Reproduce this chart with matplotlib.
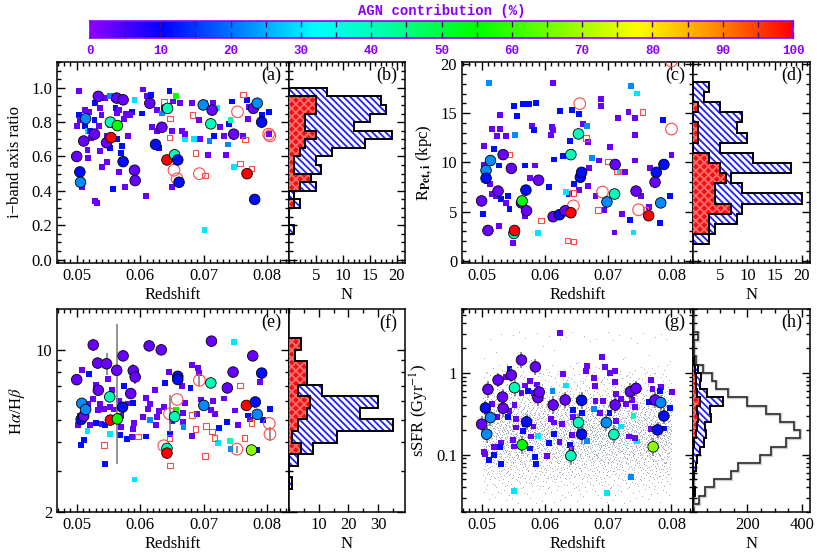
import numpy as np
import matplotlib
matplotlib.use("Agg")
import matplotlib.pyplot as plt
from matplotlib.colors import LinearSegmentedColormap
from matplotlib.ticker import MultipleLocator, LogLocator, NullFormatter, FormatStrFormatter

plt.rcParams['font.family'] = ['Liberation Serif', 'DejaVu Serif']
plt.rcParams['mathtext.fontset'] = 'stix'
plt.rcParams['font.size'] = 12
plt.rcParams['hatch.linewidth'] = 1.3
plt.rcParams['axes.linewidth'] = 1.1

# ---------------- data ----------------
# panel (a): i-band axis ratio vs redshift
a_sq_z = [0.0504,0.0503,0.0501,0.0505,0.0513,0.0513,0.0517,0.0517,0.0508,0.0518,0.0522,0.0520,0.0526,0.0529,
          0.0528,0.0535,0.0539,0.0537,0.0529,0.0532,0.0545,0.0548,0.0552,0.0551,0.0548,0.0553,0.0540,0.0558,
          0.0561,0.0566,0.0564,0.0567,0.0569,0.0571,0.0557,0.0576,0.0578,0.0587,0.0575,0.0581,0.0591,0.0605,
          0.0603,0.0609,0.0611,0.0617,0.0618,0.0622,0.0626,0.0627,0.0629,0.0634,0.0638,0.0646,0.0650,0.0652,
          0.0656,0.0662,0.0650,0.0666,0.0670,0.0671,0.0682,0.0684,0.0694,0.0693,0.0706,0.0709,0.0714,0.0716,
          0.0721,0.0726,0.0732,0.0735,0.0739,0.0738,0.0744,0.0742,0.0747,0.0701,0.0761,0.0768,0.0769,0.0771,
          0.0779,0.0792,0.0802,0.0803,0.0584,0.0563,0.0537,0.0521]
a_sq_q = [0.98,0.84,0.78,0.81,0.87,0.78,0.75,0.64,0.42,0.59,0.71,0.86,0.73,0.91,
          0.81,0.78,0.84,0.63,0.34,0.33,0.94,0.72,0.95,0.69,0.57,0.65,0.54,0.94,
          0.88,0.87,0.70,0.51,0.62,0.66,0.41,0.42,0.85,0.86,0.82,0.72,0.93,0.99,
          0.85,0.37,0.95,0.96,0.77,0.67,0.75,0.87,0.65,0.85,0.88,0.98,0.75,0.92,
          0.95,0.91,0.42,0.75,0.70,0.73,0.91,0.70,0.70,0.81,0.61,0.69,0.91,0.72,
          0.88,0.77,0.72,0.61,0.79,0.67,0.92,0.81,0.54,0.17,0.72,0.93,0.82,0.89,
          0.89,0.84,0.86,0.73,0.84,0.85,0.88,0.75]
a_sq_agn = [3,11,3,3,3,11,30,3,3,3,3,3,3,11,
            11,3,3,3,3,3,3,3,22,11,3,11,3,3,
            11,3,11,3,11,11,11,3,3,11,3,3,30,3,
            11,3,3,11,3,22,3,3,11,22,11,11,3,3,
            55,3,3,3,30,3,3,30,3,3,3,22,3,11,
            30,3,3,3,11,22,11,40,30,30,3,11,3,3,
            11,11,11,3,3,3,3,11]
a_ci_z = [0.0500,0.0505,0.0506,0.0514,0.0511,0.0528,0.0534,0.0547,0.0553,0.0554,0.0564,0.0563,0.0573,0.0573,
          0.0591,0.0592,0.0615,0.0624,0.0634,0.0643,0.0642,0.0654,0.0659,0.0661,0.0699,0.0713,0.0711,0.0747,
          0.0768,0.0778,0.0784,0.0791,0.0780]
a_ci_q = [0.60,0.51,0.45,0.82,0.69,0.73,0.95,0.68,0.80,0.71,0.78,0.94,0.93,0.57,
          0.52,0.46,0.91,0.67,0.77,0.88,0.58,0.61,0.58,0.45,0.90,0.87,0.79,0.73,
          0.50,0.88,0.91,0.80,0.35]
a_ci_agn = [3,11,22,22,3,3,3,3,40,100,55,3,3,11,
            3,3,3,11,3,40,100,40,11,11,22,3,40,3,
            100,3,22,11,11]
a_oc_z = [0.0653,0.0658,0.0693,0.0753,0.0802,0.0804]
a_oc_q = [0.52,0.47,0.50,0.86,0.73,0.72]
a_os_z = [0.0552,0.0637,0.0647,0.0646,0.0682,0.0687,0.0702,0.0757,0.0762,0.0765,0.0775,0.0701]
a_os_q = [0.79,0.92,0.82,0.71,0.84,0.62,0.49,0.56,0.96,0.70,0.53,0.91]

# panel (b): axis-ratio histogram, bins of 0.05 from 0.15 to 1.0 (bottom to top)
b_edges = [0.15,0.20,0.25,0.30,0.35,0.40,0.45,0.50,0.55,0.60,0.65,0.70,0.75,0.80,0.85,0.90,0.95,1.00]
b_blue = [1,0,0,2,1,5,4,6,5,8,14,19,12,15,18,17,7]
b_red = [0,0,0,1,0,2,4,1,1,2,3,5,3,3,5,5,0]

# panel (c): Petrosian radius vs redshift
c_sq_z = [0.0511,0.0504,0.0503,0.0502,0.0519,0.0513,0.0517,0.0523,0.0529,0.0529,0.0516,0.0525,0.0528,0.0530,
          0.0528,0.0539,0.0542,0.0539,0.0544,0.0551,0.0553,0.0556,0.0550,0.0565,0.0575,0.0569,0.0568,0.0580,
          0.0583,0.0586,0.0585,0.0577,0.0589,0.0609,0.0606,0.0615,0.0611,0.0613,0.0624,0.0628,0.0613,0.0638,
          0.0634,0.0639,0.0643,0.0646,0.0654,0.0654,0.0660,0.0667,0.0668,0.0670,0.0668,0.0675,0.0680,0.0686,
          0.0689,0.0689,0.0693,0.0703,0.0710,0.0719,0.0715,0.0722,0.0727,0.0732,0.0735,0.0736,0.0745,0.0742,
          0.0743,0.0743,0.0740,0.0752,0.0764,0.0766,0.0787,0.0782,0.0800,0.0797]
c_sq_r = [18.1,11.7,9.8,4.8,11.4,7.8,6.8,6.6,14.8,13.4,13.4,12.7,9.7,6.3,
          3.6,12.7,6.6,5.9,5.3,15.7,12.8,14.7,1.8,15.9,15.9,9.7,4.6,13.7,
          13.3,16.0,9.7,8.4,2.8,12.8,7.5,10.3,13.6,13.3,15.2,10.7,18.1,6.8,
          7.0,12.2,15.3,7.8,7.2,14.9,13.9,13.7,12.1,9.4,7.6,10.5,6.6,10.2,
          16.4,15.7,5.2,11.6,2.9,9.0,14.5,4.8,9.0,15.1,4.2,17.8,17.0,14.5,
          12.8,10.2,2.9,6.6,5.5,9.4,14.3,3.9,10.8,6.6]
c_sq_agn = [22,3,3,11,11,3,3,3,3,3,3,3,11,11,
            3,3,11,3,11,11,22,11,3,11,11,11,3,3,
            11,11,3,3,30,3,11,11,3,3,11,11,3,3,
            30,11,11,11,3,11,3,22,3,3,3,22,3,3,
            3,3,3,3,3,30,3,3,3,3,11,22,30,3,
            3,3,30,3,3,3,11,11,3,11]
c_ci_z = [0.0500,0.0510,0.0507,0.0514,0.0507,0.0526,0.0534,0.0547,0.0551,0.0552,0.0563,0.0564,0.0571,0.0570,
          0.0590,0.0613,0.0623,0.0632,0.0641,0.0641,0.0653,0.0656,0.0658,0.0698,0.0710,0.0711,0.0744,0.0764,
          0.0776,0.0788,0.0774,0.0783]
c_ci_r = [6.1,3.1,9.2,10.2,8.4,7.1,10.8,9.4,2.8,3.1,5.9,6.1,5.1,7.2,
          8.2,4.5,4.7,5.1,4.9,10.8,12.9,8.5,9.0,6.0,6.8,9.8,7.1,4.6,
          9.0,9.8,8.0,5.9]
c_ci_agn = [3,3,22,22,11,3,3,3,40,100,3,55,3,11,
            3,3,11,3,100,40,40,11,11,22,40,3,3,100,
            11,11,3,22]
c_oc_z = [0.0655,0.0645,0.0691,0.0748,0.0800,0.0800]
c_oc_r = [15.97,5.6,7.0,5.2,13.4,20.3]
c_os_z = [0.0543,0.0594,0.0644,0.0636,0.0645,0.0665,0.0700,0.0714,0.0684,0.0754,0.0759]
c_os_r = [10.8,4.1,6.9,2.1,2.0,12.5,10.1,9.1,5.2,15.1,5.2]

# panel (d): radius histogram (bottom to top)
d_edges = [1.7,2.73,3.76,4.79,5.83,6.86,7.89,8.92,9.95,10.98,12.01,13.04,14.08,15.11,16.14,17.17,18.2]
d_blue = [3,4,8,9,20,9,7,18,11,5,10,8,9,5,2,3]
d_red = [0,3,3,7,4,4,6,5,3,0,1,1,0,1,0,0]

# panel (e): Balmer decrement vs redshift
e_sq_z = [0.0508,0.0519,0.0507,0.0512,0.0517,0.0502,0.0505,0.0518,0.0521,0.0526,0.0530,0.0530,0.0533,0.0537,
          0.0539,0.0543,0.0545,0.0544,0.0549,0.0552,0.0553,0.0556,0.0558,0.0566,0.0569,0.0568,0.0570,0.0575,
          0.0579,0.0581,0.0582,0.0588,0.0588,0.0590,0.0591,0.0587,0.0605,0.0609,0.0612,0.0616,0.0615,0.0609,
          0.0623,0.0626,0.0625,0.0629,0.0637,0.0639,0.0645,0.0647,0.0650,0.0656,0.0662,0.0667,0.0667,0.0668,
          0.0665,0.0671,0.0679,0.0682,0.0682,0.0689,0.0691,0.0693,0.0696,0.0711,0.0714,0.0718,0.0722,0.0724,
          0.0732,0.0737,0.0741,0.0742,0.0749,0.0754,0.0770,0.0772,0.0784,0.0788,0.0793,0.0804,0.0747]
e_sq_r = [8.2,7.9,3.88,4.10,4.45,4.73,5.19,5.83,4.73,6.15,7.08,4.82,5.50,5.83,
          4.78,5.57,4.73,3.22,7.52,5.69,4.33,6.74,5.53,6.05,4.67,4.28,5.19,6.97,
          4.14,5.87,6.42,5.92,4.55,4.85,2.76,4.22,5.15,6.21,5.57,5.83,4.97,4.23,
          6.70,5.15,4.73,5.44,5.69,7.20,8.02,4.33,4.93,5.50,7.48,5.32,4.89,4.67,
          7.01,5.92,6.85,8.57,4.26,5.27,8.35,7.94,6.11,5.50,6.01,5.27,3.96,4.62,
          6.17,4.89,4.06,3.73,5.48,4.73,5.21,5.01,3.71,7.24,4.98,5.57,10.85]
e_sq_agn = [3,11,11,11,30,3,3,3,3,3,3,11,3,3,
            3,3,11,11,3,3,30,3,3,3,3,11,3,11,
            11,3,11,11,3,3,30,3,3,3,3,3,22,11,
            3,3,3,3,3,11,3,11,3,55,11,3,3,22,
            3,3,11,3,3,3,3,3,3,3,3,3,30,11,
            3,11,40,22,3,3,11,3,11,3,11,11,30]
e_ci_z = [0.0500,0.0507,0.0508,0.0511,0.0514,0.0526,0.0533,0.0534,0.0547,0.0552,0.0553,0.0564,0.0563,0.0573,
          0.0572,0.0589,0.0592,0.0585,0.0614,0.0633,0.0659,0.0659,0.0642,0.0642,0.0654,0.0700,0.0711,0.0712,
          0.0737,0.0746,0.0767,0.0777,0.0781,0.0784,0.0791,0.0775]
e_ci_r = [7.44,5.01,5.88,5.18,5.53,10.5,8.77,6.70,8.71,6.27,4.98,5.04,8.16,9.42,
          5.66,8.13,7.64,6.48,10.4,10.0,7.69,7.45,3.76,3.59,5.15,5.76,7.20,10.9,
          6.85,8.02,5.76,9.42,5.96,5.27,7.94,3.70]
e_ci_agn = [3,11,22,3,22,3,3,3,3,40,100,55,3,3,
            11,3,3,3,3,3,11,11,40,100,40,22,40,3,
            3,3,100,3,11,22,11,68]
e_ci_elo = [0,0,0,0,0,0.025,0,0,0.047,0,0,0.195,0,0,
            0,0.03,0.03,0,0,0,0,0,0,0,0,0,0,0,
            0,0,0,0,0,0,0,0]
e_ci_ehi = [0,0,0,0,0,0.025,0,0,0.047,0,0,0.411,0,0,
            0,0.03,0.03,0,0,0,0,0,0,0,0,0,0,0,
            0,0,0,0,0,0,0,0]
e_oc_z = [0.0693,0.0658,0.0646,0.0752,0.0803,0.0804,0.0637]
e_oc_r = [7.39,6.11,5.30,3.73,4.82,4.33,3.86]
e_oc_err = [0.025,0.0,0.08,0.015,0.0,0.03,0.0]
e_os_z = [0.0543,0.0596,0.0646,0.0647,0.0681,0.0687,0.0703,0.0713,0.0717,0.0702,0.0757,0.0764,0.0775]
e_os_r = [3.89,4.23,4.16,3.18,5.24,4.55,4.70,4.44,4.16,3.49,7.01,4.16,4.85]

# panel (f): Balmer decrement histogram, log bins of 0.05 dex from 0.40 to 1.05 (bottom to top)
f_log_edges = [0.40,0.45,0.50,0.55,0.60,0.65,0.70,0.75,0.80,0.85,0.90,0.95,1.00,1.05]
f_blue = [1,0,3,8,16,35,24,30,11,0,0,0,0]
f_red = [0,0,0,4,1,3,6,7,3,6,6,2,4]

# panel (g): sSFR vs redshift
g_sq_z = [0.0624,0.0690,0.0666,0.0665,0.0695,0.0703,0.0711,0.0677,0.0711,0.0679,0.0628,0.0544,0.0539,0.0576,
          0.0588,0.0568,0.0573,0.0563,0.0582,0.0612,0.0633,0.0680,0.0692,0.0713,0.0720,0.0728,0.0737,0.0743,
          0.0764,0.0768,0.0770,0.0784,0.0782,0.0801,0.0798,0.0788,0.0767,0.0740,0.0745,0.0742,0.0733,0.0720,
          0.0713,0.0702,0.0687,0.0677,0.0666,0.0658,0.0645,0.0644,0.0643,0.0640,0.0642,0.0615,0.0610,0.0627,
          0.0623,0.0615,0.0607,0.0604,0.0589,0.0578,0.0576,0.0585,0.0586,0.0582,0.0565,0.0568,0.0555,0.0550,
          0.0551,0.0555,0.0544,0.0542,0.0531,0.0529,0.0520,0.0520,0.0512,0.0530,0.0504,0.0506,0.0516,0.0525,
          0.0551,0.0698,0.0736,0.0552]
g_sq_s = [3.06,1.55,1.21,1.05,1.18,1.00,1.05,0.853,0.77,0.69,0.97,1.10,0.89,0.79,
          0.72,0.70,0.60,0.57,0.57,0.60,0.70,0.45,0.45,0.55,0.48,0.42,0.47,0.38,
          0.44,0.81,0.64,0.67,0.60,0.58,0.37,0.209,0.205,0.297,0.145,0.158,0.167,0.221,
          0.259,0.32,0.32,0.365,0.148,0.32,0.348,0.292,0.173,0.131,0.119,0.247,0.276,0.24,
          0.144,0.181,0.138,0.097,0.17,0.167,0.119,0.094,0.077,0.221,0.195,0.236,0.215,0.152,
          0.126,0.276,0.342,0.292,0.141,0.123,0.123,0.099,0.087,0.077,0.107,0.102,0.412,0.292,
          0.036,0.034,0.053,0.40]
g_sq_agn = [3,3,3,3,3,3,3,3,3,3,3,11,3,3,
            3,3,11,3,3,22,30,3,3,3,3,3,3,3,
            11,3,3,3,11,3,11,11,3,40,30,3,3,30,
            3,11,3,22,22,11,11,3,3,11,3,3,3,3,
            3,11,11,3,30,3,11,11,11,3,11,11,3,3,
            3,3,3,11,3,11,3,11,11,11,3,3,3,3,
            30,30,22,3]
g_ci_z = [0.0500,0.0506,0.0508,0.0510,0.0514,0.0526,0.0533,0.0534,0.0547,0.0552,0.0563,0.0564,0.0571,0.0585,
          0.0589,0.0591,0.0613,0.0632,0.0653,0.0658,0.0658,0.0641,0.0697,0.0709,0.0711,0.0735,0.0744,0.0771,
          0.0774,0.0778,0.0783,0.0788]
g_ci_s = [0.236,0.372,0.178,0.627,0.284,0.815,0.506,0.369,0.937,0.657,1.43,0.132,0.252,1.18,
          0.497,0.582,0.405,0.466,0.247,0.461,0.178,0.097,0.247,0.177,0.405,0.588,0.645,0.125,
          0.466,0.201,0.432,0.297]
g_ci_agn = [3,11,22,3,22,3,3,3,3,40,3,55,11,3,
            3,3,3,3,40,11,11,40,22,40,3,3,3,68,
            3,11,22,11]
g_ci_err = [0.10,0.09,0.11,0.10,0.10,0.09,0.10,0.11,0.09,0.10,0.10,0.11,0.10,0.10,
            0.10,0.09,0.11,0.10,0.11,0.10,0.12,0.11,0.10,0.11,0.10,0.10,0.09,0.11,
            0.10,0.10,0.09,0.10]

# panel (h): sSFR histograms, log bins of 0.1 dex from -1.6 to 0.5 (bottom to top)
h_log_edges = [-1.6,-1.5,-1.4,-1.3,-1.2,-1.1,-1.0,-0.9,-0.8,-0.7,-0.6,-0.5,-0.4,-0.3,-0.2,-0.1,0.0,0.1,0.2,0.3,0.4,0.5]
h_all = [22,43,76,141,166,245,288,343,395,371,319,270,199,129,83,68,37,10,3,3,20]
h_blue = [0,8,0,3,10,15,24,40,48,45,65,62,110,50,25,30,20,0,0,0,0]
h_red = [0,0,0,0,0,0,0,5,10,15,20,15,25,15,12,10,8,5,0,0,0]

# ---------------- styling ----------------
purple = '#8a00ff'
agn_cmap = LinearSegmentedColormap.from_list('agn', [
    (0.00, (0.56, 0.0, 1.0)), (0.10, (0.0, 0.0, 1.0)), (0.20, (0.0, 0.45, 1.0)),
    (0.32, (0.0, 1.0, 1.0)), (0.42, (0.0, 1.0, 0.65)), (0.55, (0.0, 1.0, 0.0)),
    (0.68, (0.55, 1.0, 0.0)), (0.78, (1.0, 1.0, 0.0)), (0.88, (1.0, 0.6, 0.0)),
    (1.00, (1.0, 0.0, 0.0))])
open_red = '#ff4a4a'


def ticks(ax):
    ax.tick_params(which='both', direction='in', top=True, right=True, width=1.0)
    ax.tick_params(which='major', length=6)
    ax.tick_params(which='minor', length=3)


def scatter_panel(ax, sq_x, sq_y, sq_c, ci_x, ci_y, ci_c, os_x, os_y, oc_x, oc_y):
    ax.scatter(sq_x, sq_y, c=sq_c, cmap=agn_cmap, vmin=0, vmax=100, marker='s', s=18,
               linewidths=0, zorder=3)
    if len(os_x):
        ax.scatter(os_x, os_y, marker='s', s=16, facecolors='none', edgecolors=open_red,
                   linewidths=0.8, zorder=3)
    if len(oc_x):
        ax.scatter(oc_x, oc_y, marker='o', s=70, facecolors='none', edgecolors=open_red,
                   linewidths=0.8, zorder=4)
    ax.scatter(ci_x, ci_y, c=ci_c, cmap=agn_cmap, vmin=0, vmax=100, marker='o', s=58,
               edgecolors='k', linewidths=0.6, zorder=5)
    ax.set_xlim(0.0469, 0.0834)
    ax.xaxis.set_major_locator(MultipleLocator(0.01))
    ax.xaxis.set_minor_locator(MultipleLocator(0.001))
    ax.xaxis.set_major_formatter(FormatStrFormatter('%.2f'))
    ax.set_xlabel('Redshift', labelpad=2)
    ticks(ax)


def hist_panel(ax, edges, blue, red):
    ax.stairs(blue, edges, orientation='horizontal', fill=True, facecolor='white',
              edgecolor='#2020ff', hatch='\\\\\\\\\\', linewidth=0, zorder=2)
    ax.stairs(blue, edges, orientation='horizontal', color='k', linewidth=1.4, zorder=3)
    ax.stairs(red, edges, orientation='horizontal', fill=True, facecolor='#f01010',
              edgecolor='#ff6a6a', hatch='xxxx', linewidth=0, zorder=4)
    ax.stairs(red, edges, orientation='horizontal', color='k', linewidth=1.4, zorder=5)
    ax.set_xlabel('N', labelpad=2)
    ticks(ax)
    ax.tick_params(labelleft=False)


def label(ax, txt, x):
    ax.text(x, 0.975, txt, transform=ax.transAxes, ha='right', va='top', fontsize=13)


def halton(k, base):
    # radical inverse, used to spread the comparison sample evenly inside each bin
    f, r = 1.0, 0.0
    while k > 0:
        f /= base
        r += f * (k % base)
        k //= base
    return r


fig = plt.figure(figsize=(8.17, 5.58), dpi=100)
W, H = 817.0, 558.0


def add(x0, x1, y0, y1):
    return fig.add_axes([x0 / W, 1 - y1 / H, (x1 - x0) / W, (y1 - y0) / H])


ax_a = add(57, 289, 62, 263)
ax_b = add(289, 405, 62, 263)
ax_c = add(462, 693, 62, 263)
ax_d = add(693, 810, 62, 263)
ax_e = add(57, 289, 309, 512)
ax_f = add(289, 405, 309, 512)
ax_g = add(462, 693, 309, 512)
ax_h = add(693, 810, 309, 512)

# (a)
scatter_panel(ax_a, a_sq_z, a_sq_q, a_sq_agn, a_ci_z, a_ci_q, a_ci_agn, a_os_z, a_os_q, a_oc_z, a_oc_q)
ax_a.set_ylim(-0.02, 1.15)
ax_a.yaxis.set_major_locator(MultipleLocator(0.2))
ax_a.yaxis.set_minor_locator(MultipleLocator(0.05))
ax_a.yaxis.set_major_formatter(FormatStrFormatter('%.1f'))
ax_a.set_ylabel('i\u2212band axis ratio', labelpad=6)
label(ax_a, '(a)', 0.965)

# (b)
hist_panel(ax_b, b_edges, b_blue, b_red)
ax_b.set_ylim(ax_a.get_ylim())
ax_b.yaxis.set_major_locator(MultipleLocator(0.2))
ax_b.yaxis.set_minor_locator(MultipleLocator(0.05))
ax_b.set_xlim(0, 21.5)
ax_b.set_xticks([5, 10, 15, 20])
ax_b.xaxis.set_minor_locator(MultipleLocator(1))
label(ax_b, '(b)', 0.93)

# (c)
scatter_panel(ax_c, c_sq_z, c_sq_r, c_sq_agn, c_ci_z, c_ci_r, c_ci_agn, c_os_z, c_os_r, c_oc_z, c_oc_r)
ax_c.set_ylim(-0.2, 20.2)
ax_c.yaxis.set_major_locator(MultipleLocator(5))
ax_c.yaxis.set_minor_locator(MultipleLocator(1))
ax_c.set_ylabel(r'R$_{\mathbf{Pet,i}}$ (kpc)', labelpad=4)
label(ax_c, '(c)', 0.965)

# (d)
hist_panel(ax_d, d_edges, d_blue, d_red)
ax_d.set_ylim(ax_c.get_ylim())
ax_d.yaxis.set_major_locator(MultipleLocator(5))
ax_d.yaxis.set_minor_locator(MultipleLocator(1))
ax_d.set_xlim(0, 21.5)
ax_d.set_xticks([5, 10, 15, 20])
ax_d.xaxis.set_minor_locator(MultipleLocator(1))
label(ax_d, '(d)', 0.93)

# (e)
e_ci_z_arr = np.array(e_ci_z)
e_ci_r_arr = np.array(e_ci_r)
lo = e_ci_r_arr - e_ci_r_arr * 10 ** -np.array(e_ci_elo)
hi = e_ci_r_arr * 10 ** np.array(e_ci_ehi) - e_ci_r_arr
ax_e.errorbar(e_ci_z_arr, e_ci_r_arr, yerr=[lo, hi], fmt='none', ecolor='#808080', elinewidth=1.2, zorder=4)
oc_r = np.array(e_oc_r)
oc_e = np.array(e_oc_err)
ax_e.errorbar(e_oc_z, oc_r, yerr=[oc_r - oc_r * 10 ** -oc_e, oc_r * 10 ** oc_e - oc_r], fmt='none',
              ecolor='#808080', elinewidth=1.2, zorder=4)
scatter_panel(ax_e, e_sq_z, e_sq_r, e_sq_agn, e_ci_z, e_ci_r, e_ci_agn, e_os_z, e_os_r, e_oc_z, e_oc_r)
for ax in (ax_e, ax_f):
    ax.set_yscale('log')
    ax.set_ylim(2, 15)
    ax.set_yticks([2, 10], ['2', '10'])
    ax.yaxis.set_minor_locator(LogLocator(base=10, subs=np.arange(2, 10)))
    ax.yaxis.set_minor_formatter(NullFormatter())
ax_e.set_ylabel(r'H$\alpha$/H$\beta$', labelpad=6)
label(ax_e, '(e)', 0.965)

# (f)
hist_panel(ax_f, 10 ** np.array(f_log_edges), f_blue, f_red)
ax_f.set_xlim(0, 39)
ax_f.set_xticks([10, 20, 30])
ax_f.xaxis.set_minor_locator(MultipleLocator(5))
ax_f.tick_params(labelleft=False)
label(ax_f, '(f)', 0.93)

# (g): comparison sample cloud, spread evenly from the (h) open-histogram counts
cloud_x, cloud_y = [], []
k = 1
for i, n in enumerate(h_all):
    for _ in range(n):
        cloud_x.append(0.0502 + 0.0298 * halton(k, 2))
        cloud_y.append(10 ** (h_log_edges[i] + 0.1 * halton(k, 3)))
        k += 1
ax_g.scatter(cloud_x, cloud_y, s=0.5, color='#a2aab8', linewidths=0, zorder=1)
g_s = np.array(g_ci_s)
g_e = np.array(g_ci_err)
ax_g.errorbar(g_ci_z, g_s, yerr=[g_s - g_s * 10 ** -g_e, g_s * 10 ** g_e - g_s], fmt='none',
              ecolor='#808080', elinewidth=1.2, zorder=4)
scatter_panel(ax_g, g_sq_z, g_sq_s, g_sq_agn, g_ci_z, g_ci_s, g_ci_agn, [], [], [], [])
for ax in (ax_g, ax_h):
    ax.set_yscale('log')
    ax.set_ylim(0.02, 6)
    ax.set_yticks([0.1, 1], ['0.1', '1'])
    ax.yaxis.set_minor_locator(LogLocator(base=10, subs=np.arange(2, 10)))
    ax.yaxis.set_minor_formatter(NullFormatter())
ax_g.set_ylabel(r'sSFR (Gyr$^{-1}$)', labelpad=4)
label(ax_g, '(g)', 0.965)

# (h)
h_edges = 10 ** np.array(h_log_edges)
ax_h.axvline(0, color='#808080', linewidth=2.5, zorder=1)
ax_h.stairs(h_all, h_edges, orientation='horizontal', color='#cccccc', linewidth=2.4, zorder=1)
ax_h.stairs(h_all, h_edges, orientation='horizontal', color='#222222', linewidth=1.1, zorder=6)
hist_panel(ax_h, h_edges, h_blue, h_red)
ax_h.set_xlim(0, 430)
ax_h.set_xticks([200, 400])
ax_h.xaxis.set_minor_locator(MultipleLocator(50))
ax_h.tick_params(labelleft=False)
label(ax_h, '(h)', 0.93)

# colour bar on top
ax_cb = add(90, 793, 21, 38)
grad = np.linspace(0, 100, 256).reshape(1, -1)
ax_cb.imshow(grad, aspect='auto', cmap=agn_cmap, extent=[0, 100, 0, 1], vmin=0, vmax=100)
ax_cb.set_yticks([])
ax_cb.set_xticks(np.arange(0, 101, 10))
ax_cb.xaxis.set_minor_locator(MultipleLocator(5))
ax_cb.tick_params(which='both', direction='in', top=True, bottom=True, length=4, width=1.0,
                  color='#4a1070', labelcolor=purple, labelsize=9, pad=5)
for lab in ax_cb.get_xticklabels():
    lab.set_family(['Liberation Mono', 'DejaVu Sans Mono'])
    lab.set_fontweight('bold')
for sp in ax_cb.spines.values():
    sp.set_color(purple)
    sp.set_linewidth(1.2)
fig.text(442 / W, 1 - 11 / H, 'AGN contribution (%)', ha='center', va='center', color=purple,
         fontsize=10, fontweight='bold', family=['Liberation Mono', 'DejaVu Sans Mono'])

fig.savefig('out.png', dpi=100)
